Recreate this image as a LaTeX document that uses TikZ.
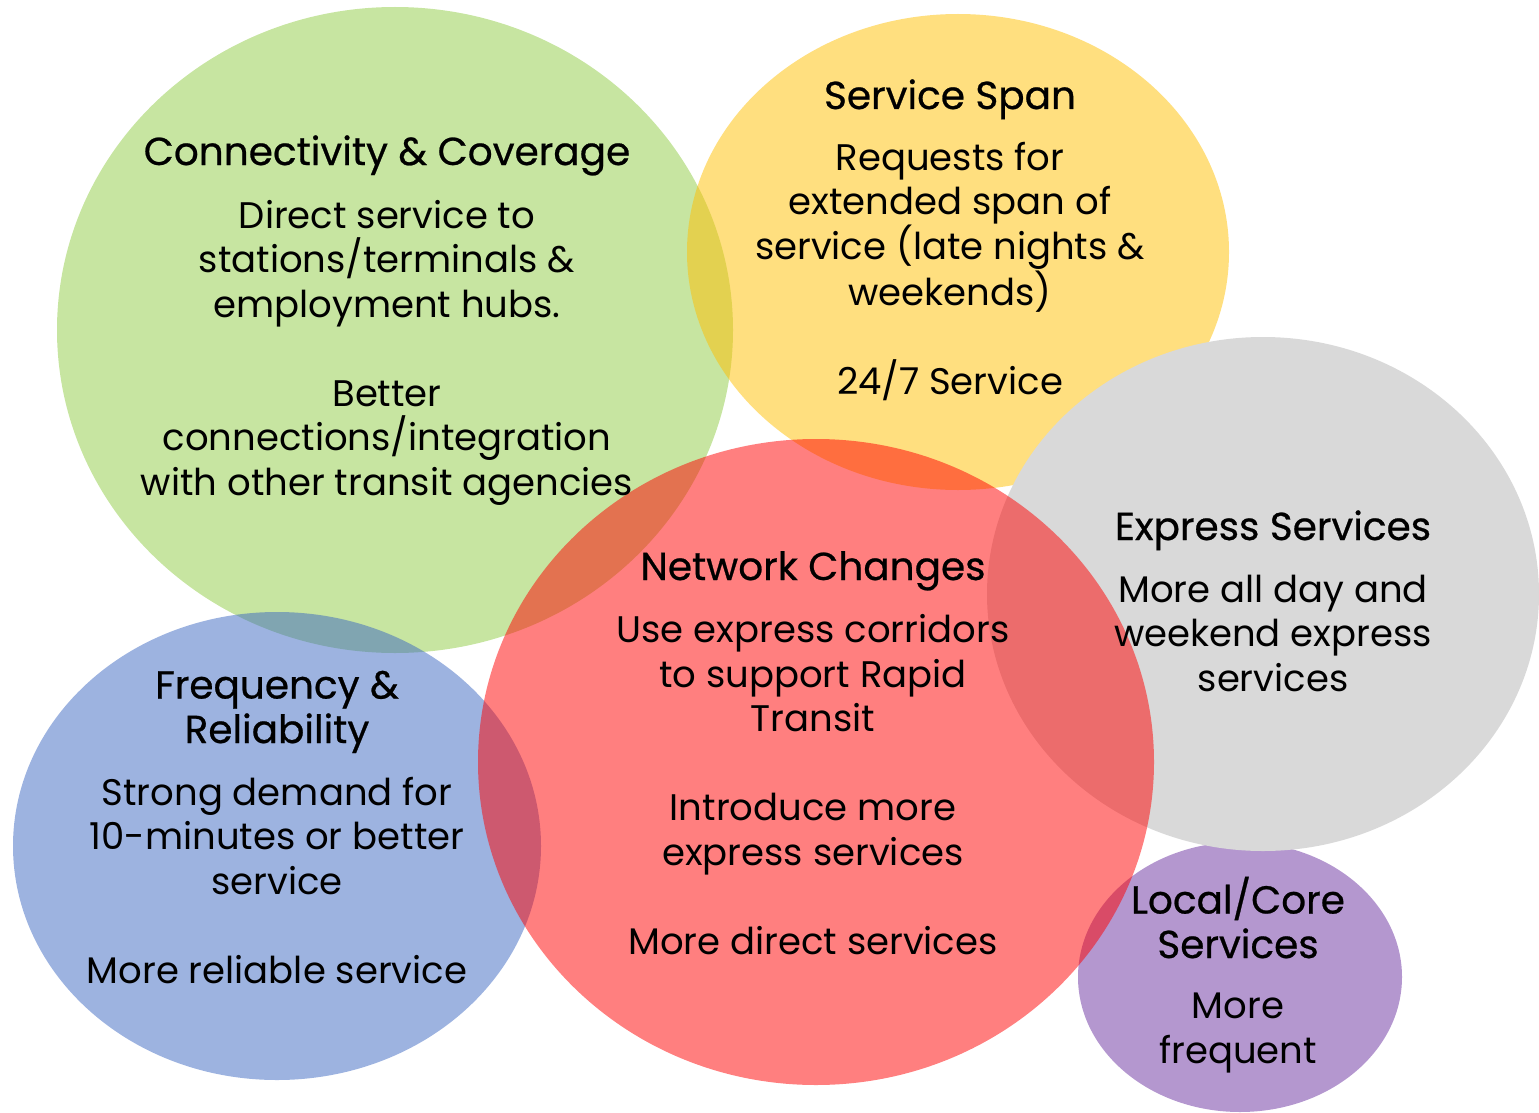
\documentclass[tikz,border=0pt]{standalone}
\usepackage{fontspec}
\setmainfont{Poppins}
\newfontfamily\hdrfont{Poppins}[FakeBold=0.6]
\definecolor{cgreen}{RGB}{199,229,161}
\definecolor{cblue}{RGB}{59,103,193}
\definecolor{cyellow}{RGB}{255,191,0}
\definecolor{cpurple}{RGB}{180,151,207}
\definecolor{cgray}{RGB}{217,217,217}
\definecolor{cred}{RGB}{255,0,0}
\begin{document}
\begin{tikzpicture}[x=1pt,y=-1pt,
  hdr/.style={anchor=base,align=center,inner sep=0pt,font=\fontsize{39}{44.5}\hdrfont},
  body/.style={anchor=base,align=center,inner sep=0pt,font=\fontsize{37}{44.5}\selectfont}]
\useasboundingbox (0,0) rectangle (1539,1113);
\fill[cgreen] (395,330) ellipse [x radius=338, y radius=323];
\fill[cblue,fill opacity=0.5] (277,846) ellipse [x radius=264, y radius=234];
\fill[cyellow,fill opacity=0.5] (958,252) ellipse [x radius=271, y radius=238];
\fill[cpurple] (1240,977) ellipse [x radius=162, y radius=135];
\fill[cgray] (1263,594) ellipse [x radius=276, y radius=257];
\fill[cred,fill opacity=0.5] (816,762) ellipse [x radius=338, y radius=323];

\node[hdr] (h1) at (387,165) {Connectivity \& Coverage};
\node[body] (b1) at (387,495) {Direct service to\\stations/terminals \&\\employment hubs.\\[44.5pt]Better\\connections/integration\\with other transit agencies};

\node[hdr] (h2) at (950,109) {Service Span};
\node[body] (b2) at (950,394) {Requests for\\extended span of\\service (late nights \&\\weekends)\\[44.5pt]24/7 Service};

\node[hdr] (h3) at (1273,540) {Express Services};
\node[body] (b3) at (1273,691) {More all day and\\weekend express\\services};

\node[hdr] (h4) at (813,580) {Network Changes};
\node[body] (b4) at (813,954) {Use express corridors\\to support Rapid\\Transit\\[44.5pt]Introduce more\\express services\\[44.5pt]More direct services};

\node[hdr] (h5) at (277,743) {Frequency \&\\Reliability};
\node[body] (b5) at (277,983) {Strong demand for\\10-minutes or better\\service\\[44.5pt]More reliable service};

\node[hdr] (h6) at (1238,958) {Local/Core\\Services};
\node[body] (b6) at (1238,1063) {More\\frequent};
\end{tikzpicture}
\end{document}
